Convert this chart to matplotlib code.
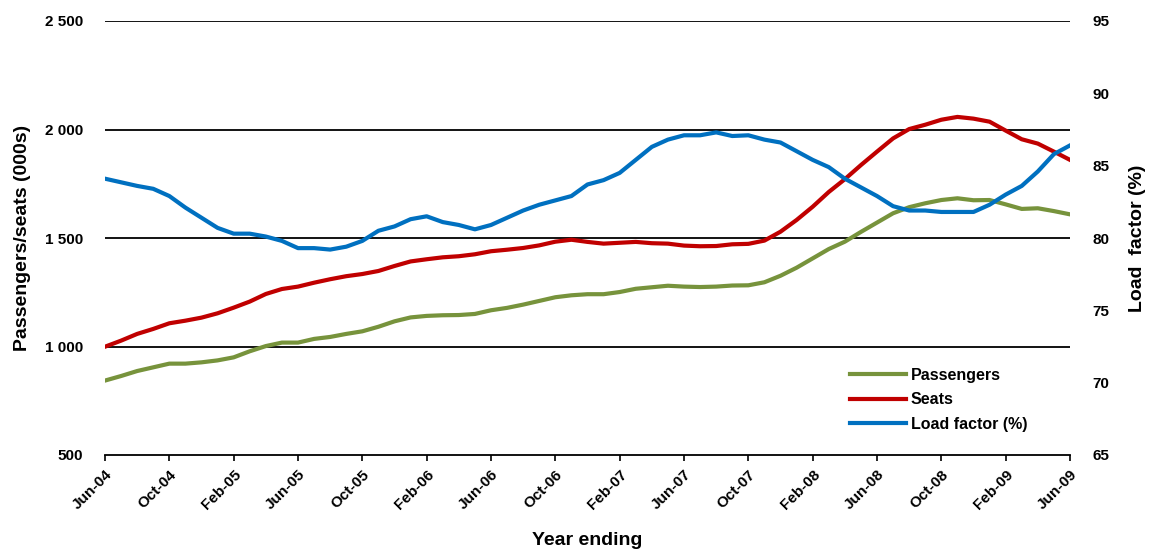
import numpy as np
import matplotlib
matplotlib.use('Agg')
import matplotlib.pyplot as plt

plt.rcParams['font.family'] = ['Liberation Sans', 'DejaVu Sans']
plt.rcParams['font.weight'] = 'bold'

# monthly, Jun-04 .. Jun-09 (year ending)
passengers = [843, 864, 887, 904, 921, 921, 927, 936, 950, 978,
              1002, 1018, 1018, 1035, 1044, 1058, 1070, 1091, 1116, 1134,
              1141, 1144, 1145, 1150, 1167, 1178, 1193, 1210, 1227, 1236,
              1241, 1241, 1251, 1266, 1273, 1280, 1276, 1274, 1276, 1281,
              1282, 1296, 1326, 1363, 1406, 1449, 1483, 1528, 1571, 1614,
              1642, 1660, 1675, 1683, 1674, 1675, 1655, 1634, 1637, 1624,
              1609]
seats = [999, 1027, 1058, 1081, 1107, 1119, 1133, 1153, 1179, 1207,
         1242, 1265, 1276, 1294, 1310, 1324, 1334, 1348, 1371, 1392,
         1402, 1411, 1416, 1425, 1439, 1446, 1454, 1466, 1483, 1492,
         1482, 1474, 1478, 1482, 1476, 1474, 1465, 1462, 1463, 1471,
         1473, 1488, 1529, 1583, 1644, 1712, 1771, 1836, 1898, 1959,
         2002, 2022, 2045, 2058, 2050, 2036, 1995, 1955, 1935, 1898,
         1860]
load_factor = [84.1, 83.85, 83.6, 83.4, 82.9, 82.1, 81.4, 80.7, 80.3, 80.3,
               80.1, 79.8, 79.3, 79.3, 79.2, 79.4, 79.8, 80.5, 80.8, 81.3,
               81.5, 81.1, 80.9, 80.6, 80.9, 81.4, 81.9, 82.3, 82.6, 82.9,
               83.7, 84.0, 84.5, 85.4, 86.3, 86.8, 87.1, 87.1, 87.3, 87.05,
               87.1, 86.8, 86.6, 86.0, 85.4, 84.9, 84.1, 83.5, 82.9, 82.2,
               81.9, 81.9, 81.8, 81.8, 81.8, 82.3, 83.0, 83.6, 84.6, 85.8,
               86.4]
tick_labels = ['Jun-04', 'Oct-04', 'Feb-05', 'Jun-05', 'Oct-05', 'Feb-06',
               'Jun-06', 'Oct-06', 'Feb-07', 'Jun-07', 'Oct-07', 'Feb-08',
               'Jun-08', 'Oct-08', 'Feb-09', 'Jun-09']

x = np.arange(len(passengers))

fig = plt.figure(figsize=(11.51, 5.53), dpi=100)
ax = fig.add_axes([105/1151, 1 - 455/553, 965/1151, 434/553])
ax2 = ax.twinx()

green = '#77933C'
red = '#C00000'
blue = '#0070C0'

l1, = ax.plot(x, passengers, color=green, lw=3, label='Passengers')
l2, = ax.plot(x, seats, color=red, lw=3, label='Seats')
l3, = ax2.plot(x, load_factor, color=blue, lw=3, label='Load factor (%)')

ax.set_ylim(500, 2500)
ax.set_yticks([500, 1000, 1500, 2000, 2500])
ax.set_yticklabels(['500', '1 000', '1 500', '2 000', '2 500'])
ax2.set_ylim(65, 95)
ax2.set_yticks([65, 70, 75, 80, 85, 90, 95])
ax.set_xlim(0, 60)

for v in [1000, 1500, 2000, 2500]:
    ax.axhline(v, color='black', lw=1.3, zorder=0)

for a in (ax, ax2):
    for s in ['top', 'left', 'right']:
        a.spines[s].set_visible(False)
ax2.spines['bottom'].set_visible(False)
ax.spines['bottom'].set_linewidth(1.3)

ax.set_xticks(x[::4])
ax.set_xticklabels(tick_labels, rotation=45, ha='right', rotation_mode='anchor',
                   fontsize=11, fontweight='bold')
ax.tick_params(axis='x', length=4, width=1.2, direction='out', pad=5)
ax.tick_params(axis='y', length=0, pad=16, labelsize=11)
ax2.tick_params(axis='y', length=0, pad=16, labelsize=11)

ax.set_ylabel('Passengers/seats (000s)', fontsize=14, fontweight='bold', labelpad=10)
ax2.set_ylabel('Load  factor (%)', fontsize=14, fontweight='bold', labelpad=14)
ax.set_xlabel('Year ending', fontsize=14, fontweight='bold', labelpad=14)

ax2.legend(handles=[l1, l2, l3], loc='upper left',
           bbox_to_anchor=(850/1151, 1 - 368/553), bbox_transform=fig.transFigure,
           frameon=False, handlelength=3.5, handletextpad=0.3,
           labelspacing=0.58, borderpad=0, borderaxespad=0,
           prop={'weight': 'bold', 'size': 11.5})

fig.savefig('out.png', dpi=100)
